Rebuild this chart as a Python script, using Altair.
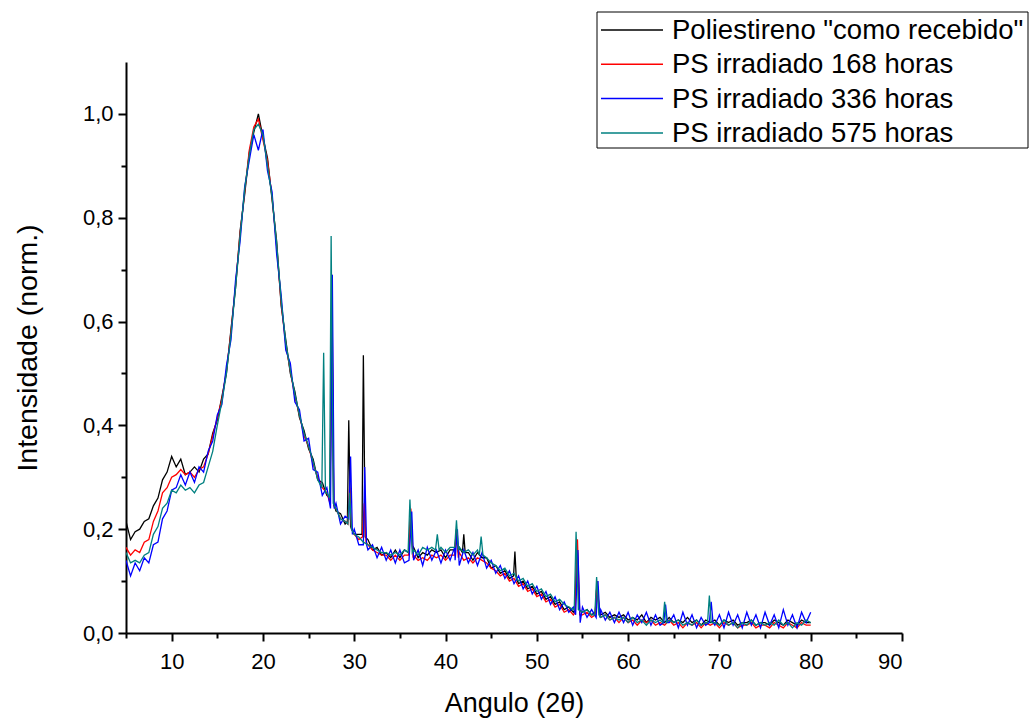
import altair as alt
import pandas as pd

FONT = "Liberation Sans"

# sampling grid of the traced curves (degrees 2-theta)
ANGLE_START = 5.0
ANGLE_STEP = 0.5

# ---- traced intensities, one value per 0.5 degree from 5 to 80 ----
BLACK = [
    0.215, 0.18, 0.195, 0.20, 0.215, 0.22, 0.245, 0.26, 0.295, 0.31,
    0.34, 0.32, 0.335, 0.305, 0.31, 0.32, 0.31, 0.335, 0.345, 0.385,
    0.41, 0.455, 0.50, 0.585, 0.665, 0.775, 0.845, 0.925, 0.965, 1.00,
    0.955, 0.915, 0.835, 0.755, 0.63, 0.565, 0.50, 0.465, 0.415, 0.39,
    0.355, 0.335, 0.295, 0.29, 0.265, 0.26, 0.235, 0.23, 0.21, 0.205,
    0.19, 0.19, 0.175, 0.18, 0.16, 0.165, 0.15, 0.155, 0.145, 0.16,
    0.145, 0.16, 0.155, 0.165, 0.145, 0.155, 0.15, 0.16, 0.155, 0.16,
    0.145, 0.16, 0.155, 0.165, 0.145, 0.155, 0.14, 0.155, 0.145, 0.145,
    0.125, 0.13, 0.115, 0.12, 0.105, 0.11, 0.095, 0.10, 0.085, 0.09,
    0.075, 0.08, 0.065, 0.07, 0.055, 0.06, 0.045, 0.05, 0.04, 0.045,
    0.04, 0.045, 0.035, 0.04, 0.035, 0.04, 0.03, 0.035, 0.03, 0.035,
    0.025, 0.03, 0.025, 0.035, 0.02, 0.03, 0.025, 0.03, 0.02, 0.03,
    0.02, 0.025, 0.02, 0.03, 0.02, 0.025, 0.015, 0.025, 0.02, 0.025,
    0.015, 0.025, 0.02, 0.025, 0.015, 0.02, 0.02, 0.025, 0.015, 0.02,
    0.02, 0.015, 0.025, 0.02, 0.015, 0.025, 0.02, 0.015, 0.025, 0.02,
    0.02,
]
RED = [
    0.165, 0.15, 0.16, 0.155, 0.175, 0.18, 0.215, 0.235, 0.27, 0.28,
    0.30, 0.305, 0.315, 0.305, 0.31, 0.30, 0.315, 0.32, 0.345, 0.38,
    0.415, 0.45, 0.505, 0.58, 0.67, 0.77, 0.85, 0.93, 0.975, 0.99,
    0.95, 0.91, 0.84, 0.745, 0.635, 0.555, 0.505, 0.455, 0.42, 0.38,
    0.36, 0.325, 0.30, 0.28, 0.27, 0.25, 0.24, 0.22, 0.215, 0.195,
    0.19, 0.18, 0.175, 0.17, 0.16, 0.155, 0.15, 0.15, 0.14, 0.15,
    0.14, 0.15, 0.145, 0.15, 0.14, 0.145, 0.14, 0.15, 0.145, 0.15,
    0.14, 0.15, 0.145, 0.155, 0.14, 0.145, 0.135, 0.145, 0.14, 0.135,
    0.125, 0.12, 0.11, 0.115, 0.10, 0.105, 0.09, 0.095, 0.08, 0.085,
    0.07, 0.075, 0.06, 0.065, 0.05, 0.055, 0.04, 0.045, 0.035, 0.04,
    0.035, 0.04, 0.03, 0.035, 0.03, 0.035, 0.025, 0.03, 0.02, 0.03,
    0.02, 0.025, 0.015, 0.025, 0.02, 0.025, 0.015, 0.02, 0.015, 0.025,
    0.015, 0.02, 0.01, 0.02, 0.015, 0.02, 0.01, 0.02, 0.015, 0.02,
    0.01, 0.02, 0.015, 0.02, 0.01, 0.015, 0.015, 0.02, 0.01, 0.015,
    0.015, 0.01, 0.02, 0.015, 0.01, 0.02, 0.015, 0.01, 0.02, 0.015,
    0.015,
]
BLUE = [
    0.14, 0.11, 0.135, 0.12, 0.145, 0.135, 0.17, 0.175, 0.22, 0.235,
    0.275, 0.28, 0.305, 0.285, 0.31, 0.29, 0.32, 0.31, 0.35, 0.37,
    0.42, 0.44, 0.515, 0.565, 0.68, 0.755, 0.86, 0.91, 0.96, 0.93,
    0.97, 0.89, 0.85, 0.73, 0.65, 0.545, 0.52, 0.445, 0.43, 0.37,
    0.375, 0.315, 0.31, 0.265, 0.28, 0.24, 0.25, 0.21, 0.225, 0.19,
    0.20, 0.17, 0.185, 0.16, 0.17, 0.145, 0.165, 0.14, 0.16, 0.135,
    0.16, 0.135, 0.165, 0.14, 0.16, 0.13, 0.165, 0.14, 0.16, 0.135,
    0.16, 0.14, 0.165, 0.145, 0.16, 0.135, 0.155, 0.13, 0.155, 0.125,
    0.14, 0.115, 0.13, 0.105, 0.12, 0.095, 0.11, 0.085, 0.10, 0.075,
    0.09, 0.065, 0.08, 0.055, 0.07, 0.045, 0.06, 0.04, 0.05, 0.03,
    0.05, 0.03, 0.045, 0.025, 0.045, 0.025, 0.04, 0.02, 0.04, 0.02,
    0.04, 0.015, 0.035, 0.02, 0.04, 0.015, 0.035, 0.015, 0.04, 0.02,
    0.035, 0.01, 0.04, 0.015, 0.035, 0.01, 0.03, 0.015, 0.04, 0.015,
    0.035, 0.01, 0.04, 0.015, 0.035, 0.01, 0.04, 0.015, 0.035, 0.01,
    0.04, 0.015, 0.035, 0.01, 0.045, 0.015, 0.035, 0.01, 0.04, 0.02,
    0.04,
]
TEAL = [
    0.155, 0.135, 0.14, 0.135, 0.15, 0.155, 0.19, 0.205, 0.24, 0.25,
    0.275, 0.27, 0.285, 0.275, 0.28, 0.27, 0.285, 0.29, 0.32, 0.35,
    0.40, 0.445, 0.50, 0.575, 0.665, 0.765, 0.855, 0.92, 0.97, 0.98,
    0.96, 0.90, 0.84, 0.75, 0.64, 0.56, 0.505, 0.46, 0.42, 0.385,
    0.36, 0.33, 0.295, 0.28, 0.27, 0.255, 0.24, 0.22, 0.215, 0.20,
    0.19, 0.185, 0.175, 0.17, 0.165, 0.16, 0.155, 0.155, 0.15, 0.155,
    0.15, 0.16, 0.155, 0.16, 0.15, 0.165, 0.16, 0.165, 0.16, 0.165,
    0.155, 0.165, 0.16, 0.165, 0.155, 0.16, 0.15, 0.16, 0.15, 0.145,
    0.135, 0.13, 0.12, 0.125, 0.11, 0.115, 0.10, 0.105, 0.09, 0.095,
    0.08, 0.085, 0.07, 0.075, 0.06, 0.065, 0.055, 0.05, 0.045, 0.05,
    0.04, 0.045, 0.035, 0.04, 0.03, 0.035, 0.025, 0.03, 0.025, 0.03,
    0.02, 0.03, 0.02, 0.025, 0.015, 0.025, 0.02, 0.025, 0.015, 0.025,
    0.02, 0.025, 0.015, 0.02, 0.015, 0.025, 0.015, 0.02, 0.015, 0.02,
    0.015, 0.025, 0.015, 0.02, 0.01, 0.02, 0.015, 0.025, 0.015, 0.02,
    0.015, 0.02, 0.015, 0.025, 0.015, 0.02, 0.01, 0.02, 0.015, 0.025,
    0.02,
]

# ---- traced narrow diffraction peaks: (angle, intensity) points ----
BLACK_PEAKS = [
    [(27.35, 0.26), (27.55, 0.62), (27.75, 0.25)],
    [(29.25, 0.215), (29.4, 0.41), (29.6, 0.205)],
    [(30.85, 0.19), (31.0, 0.535), (31.2, 0.185)],
    [(35.95, 0.155), (36.15, 0.22), (36.4, 0.16)],
    [(41.0, 0.16), (41.2, 0.20), (41.4, 0.155)],
    [(41.85, 0.155), (42.0, 0.19), (42.15, 0.155)],
    [(47.45, 0.11), (47.6, 0.157), (47.75, 0.105)],
    [(54.2, 0.045), (54.4, 0.18), (54.65, 0.045)],
    [(56.4, 0.04), (56.6, 0.10), (56.85, 0.04)],
]
RED_PEAKS = [
    [(27.35, 0.25), (27.55, 0.69), (27.75, 0.245)],
    [(29.3, 0.21), (29.5, 0.28), (29.7, 0.20)],
    [(30.9, 0.185), (31.1, 0.25), (31.3, 0.175)],
    [(35.95, 0.15), (36.2, 0.24), (36.45, 0.145)],
    [(41.0, 0.15), (41.2, 0.20), (41.4, 0.145)],
    [(54.2, 0.04), (54.45, 0.18), (54.7, 0.035)],
    [(56.4, 0.035), (56.6, 0.10), (56.85, 0.035)],
]
BLUE_PEAKS = [
    [(27.4, 0.24), (27.6, 0.69), (27.8, 0.24)],
    [(29.4, 0.22), (29.6, 0.34), (29.8, 0.19)],
    [(31.0, 0.17), (31.15, 0.32), (31.35, 0.17)],
    [(36.0, 0.14), (36.3, 0.234), (36.5, 0.14)],
    [(41.05, 0.14), (41.3, 0.20), (41.5, 0.13)],
    [(54.25, 0.035), (54.5, 0.16), (54.75, 0.02)],
    [(56.5, 0.03), (56.7, 0.10), (56.9, 0.03)],
    [(63.9, 0.02), (64.1, 0.055), (64.3, 0.02)],
    [(68.9, 0.02), (69.1, 0.06), (69.3, 0.02)],
]
TEAL_PEAKS = [
    [(26.45, 0.28), (26.65, 0.54), (26.85, 0.27)],
    [(27.3, 0.26), (27.47, 0.765), (27.7, 0.25)],
    [(29.3, 0.21), (29.5, 0.27), (29.7, 0.20)],
    [(35.9, 0.155), (36.1, 0.257), (36.35, 0.155)],
    [(38.9, 0.16), (39.1, 0.19), (39.3, 0.16)],
    [(41.0, 0.165), (41.2, 0.217), (41.4, 0.16)],
    [(43.7, 0.15), (43.9, 0.186), (44.1, 0.15)],
    [(54.1, 0.045), (54.3, 0.195), (54.55, 0.045)],
    [(56.35, 0.035), (56.55, 0.108), (56.8, 0.035)],
    [(63.8, 0.02), (64.0, 0.06), (64.2, 0.02)],
    [(68.7, 0.02), (68.9, 0.072), (69.1, 0.02)],
]

NAMES = [
    'Poliestireno "como recebido"',
    "PS irradiado 168 horas",
    "PS irradiado 336 horas",
    "PS irradiado 575 horas",
]
COLORS = ["#000000", "#ff0000", "#0000ff", "#008080"]

X_MAJOR = [10, 20, 30, 40, 50, 60, 70, 80, 90]
X_MINOR = [5, 15, 25, 35, 45, 55, 65, 75, 85]
Y_MAJOR = [0.0, 0.2, 0.4, 0.6, 0.8, 1.0]
Y_MINOR = [0.1, 0.3, 0.5, 0.7, 0.9]


def build(name, values, peaks):
    grid = [ANGLE_START + ANGLE_STEP * i for i in range(len(values))]
    spans = [(min(p[0] for p in c), max(p[0] for p in c)) for c in peaks]
    pts = [(a, v) for a, v in zip(grid, values)
           if not any(lo <= a <= hi for lo, hi in spans)]
    for c in peaks:
        pts.extend(c)
    pts.sort()
    df = pd.DataFrame(pts, columns=["angle", "intensity"])
    df["serie"] = name
    return df


x_scale = alt.Scale(domain=[5, 90], nice=False, zero=False)
y_scale = alt.Scale(domain=[0, 1.1], nice=False)
color_scale = alt.Scale(domain=NAMES, range=COLORS)

common_axis = dict(
    domainColor="black", domainWidth=2, tickColor="black", tickWidth=2,
    labelColor="black", titleColor="black", labelFont=FONT, titleFont=FONT,
    labelFontSize=22, titleFontWeight="normal", grid=False,
)

x_axis = alt.Axis(values=X_MAJOR, tickSize=8, labelPadding=10, titlePadding=18,
                  titleFontSize=27, orient="bottom", **common_axis)
y_axis = alt.Axis(values=Y_MAJOR, tickSize=8, labelPadding=5, titlePadding=40,
                  titleFontSize=28.5, orient="left",
                  labelExpr="replace(format(datum.value, '.1f'), '.', ',')",
                  **common_axis)

series = [
    (NAMES[0], BLACK, BLACK_PEAKS),
    (NAMES[1], RED, RED_PEAKS),
    (NAMES[2], BLUE, BLUE_PEAKS),
    (NAMES[3], TEAL, TEAL_PEAKS),
]

layers = []
for i, (name, vals, peaks) in enumerate(series):
    df = build(name, vals, peaks)
    first = i == 0
    enc_x = alt.X("angle:Q", scale=x_scale, title="Angulo (2θ)",
                  axis=x_axis if first else None)
    enc_y = alt.Y("intensity:Q", scale=y_scale, title="Intensidade (norm.)",
                  axis=y_axis if first else None)
    layers.append(
        alt.Chart(df).mark_line(strokeWidth=1.3, clip=True).encode(
            x=enc_x, y=enc_y,
            color=alt.Color("serie:N", scale=color_scale, legend=None),
        )
    )

minor_df = pd.DataFrame({"angle": [50.0], "intensity": [0.5]})
minor = alt.Chart(minor_df).mark_point(opacity=0, size=1).encode(
    x=alt.X("angle:Q", scale=x_scale, title="",
            axis=alt.Axis(values=X_MINOR, tickSize=5, labels=False, domain=False,
                          orient="bottom", tickColor="black", tickWidth=2, grid=False)),
    y=alt.Y("intensity:Q", scale=y_scale, title="",
            axis=alt.Axis(values=Y_MINOR, tickSize=5, labels=False, domain=False,
                          orient="left", tickColor="black", tickWidth=2, grid=False)),
)

# ---- legend box (drawn by hand, relative to the plot area origin) ----
LEG_LEFT, LEG_RIGHT, LEG_TOP, LEG_BOTTOM = 471, 902, -50, 86
LEG_ROW0, LEG_ROW_STEP = -32, 34.3
LEG_SYM_X0, LEG_SYM_X1, LEG_TEXT_X = 475, 537, 546

one = pd.DataFrame({"k": [0]})
legend_layers = [
    alt.Chart(one).mark_rect(fill="white", stroke="black", strokeWidth=1).encode(
        x=alt.value(LEG_LEFT), x2=alt.value(LEG_RIGHT),
        y=alt.value(LEG_TOP), y2=alt.value(LEG_BOTTOM),
    )
]
for i, (name, color) in enumerate(zip(NAMES, COLORS)):
    yy = LEG_ROW0 + i * LEG_ROW_STEP
    legend_layers.append(
        alt.Chart(one).mark_rule(color=color, strokeWidth=1.5).encode(
            x=alt.value(LEG_SYM_X0), x2=alt.value(LEG_SYM_X1), y=alt.value(yy),
        )
    )
    legend_layers.append(
        alt.Chart(one).mark_text(
            text=name, align="left", baseline="middle", font=FONT,
            fontSize=27.5, color="black",
        ).encode(x=alt.value(LEG_TEXT_X), y=alt.value(yy + 1))
    )

chart = alt.layer(*layers, minor, *legend_layers).resolve_axis(
    x="independent", y="independent"
).properties(
    width=776, height=571,
    autosize=alt.AutoSizeParams(type="none"),
    padding={"left": 126, "top": 62, "right": 128, "bottom": 89},
    background="white",
).configure_view(strokeWidth=0)

chart.save("out.html", embed_options={"renderer": "svg", "actions": False})
